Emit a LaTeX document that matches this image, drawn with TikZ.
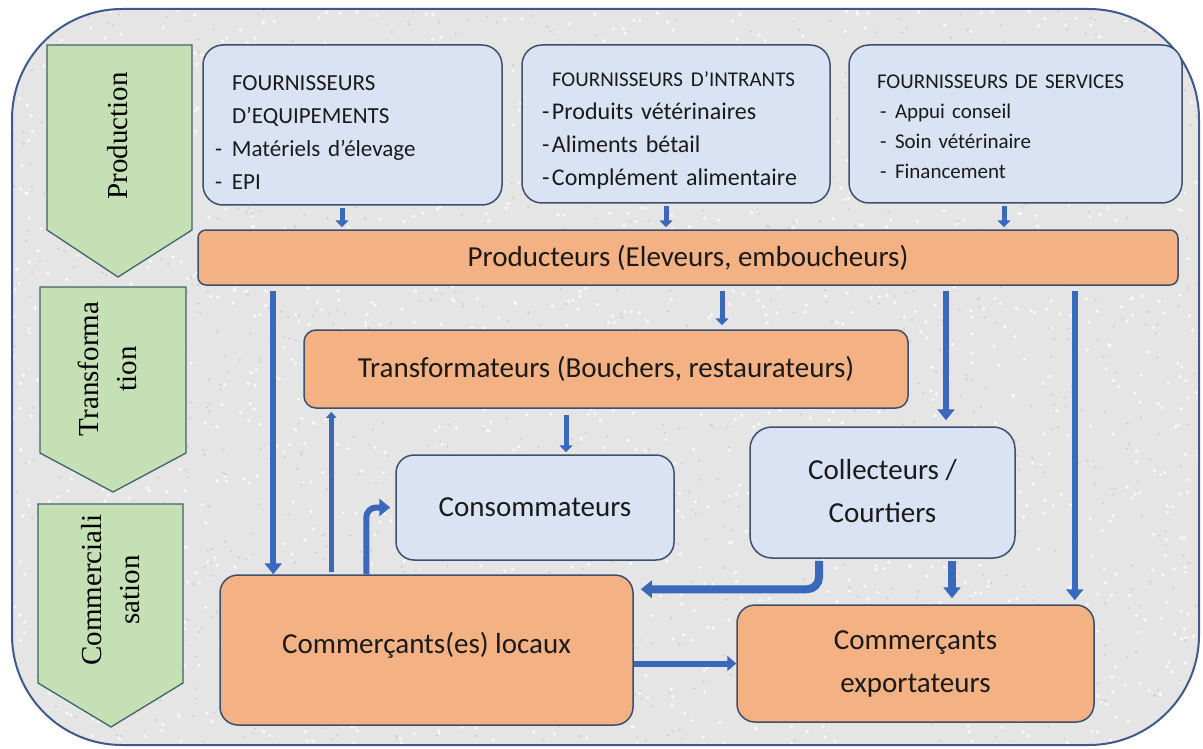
\documentclass[tikz,border=0pt]{standalone}
\usepackage{fontspec}
\setmainfont{Carlito}
\newfontfamily\chevfont{Liberation Serif}
\usetikzlibrary{arrows.meta,calc}
\definecolor{bgfill}{HTML}{E5E5E5}
\definecolor{bgdark}{HTML}{CBCBCB}
\definecolor{frameblue}{HTML}{3F5A8A}
\definecolor{boxblue}{HTML}{DAE3F3}
\definecolor{boxorange}{HTML}{F4B183}
\definecolor{boxline}{HTML}{3E4F6B}
\definecolor{chgreen}{HTML}{C5E0B4}
\definecolor{chline}{HTML}{3F6468}
\definecolor{ablue}{HTML}{3A68BA}
\definecolor{txt}{HTML}{1A1A1A}
\begin{document}
\begin{tikzpicture}[x=1pt,y=-1pt,
  bbox/.style={draw=boxline, line width=1.5pt, fill=boxblue, text=txt, inner sep=0pt},
  obox/.style={draw=boxline, line width=1.5pt, fill=boxorange, text=txt, inner sep=0pt},
  chev/.style={draw=chline, line width=1.3pt, fill=chgreen},
  chevlabel/.style={rotate=90, font=\chevfont\fontsize{29}{38}\selectfont, align=center, text=black, inner sep=0pt},
  fmain/.style={font=\fontsize{29}{43}\selectfont},
  arr/.style={draw=ablue, line width=6pt, -{Triangle[width=17pt,length=11pt]}},
  arrs/.style={draw=ablue, line width=5pt, -{Triangle[width=13pt,length=7pt]}},
  arrt/.style={draw=ablue, line width=4.5pt, -{Triangle[width=10pt,length=6pt]}}
]
\useasboundingbox (0,0) rectangle (1203,749);
\fill[white] (0,0) rectangle (1203,749);

% outer frame with textured background
\fill[bgfill, rounded corners=110pt] (12,9) rectangle (1199,745);
\begin{scope}
  \clip[rounded corners=110pt] (12,9) rectangle (1199,745);
  \pgfmathsetseed{42}
  \foreach \i in {1,...,1800}{
    \pgfmathsetmacro\xx{12+1187*rnd}
    \pgfmathsetmacro\yy{9+736*rnd}
    \fill[white, opacity=0.75] (\xx,\yy) circle (1.8pt);
  }
  \foreach \i in {1,...,1200}{
    \pgfmathsetmacro\xx{12+1187*rnd}
    \pgfmathsetmacro\yy{9+736*rnd}
    \fill[bgdark, opacity=0.8] (\xx,\yy) circle (1.3pt);
  }
\end{scope}
\draw[frameblue, line width=2pt, rounded corners=110pt] (12,9) rectangle (1199,745);

% chevrons
\draw[chev] (47,45) -- (192,45) -- (192,230) -- (118,277) -- (47,230) -- cycle;
\draw[chev] (40,287) -- (186,287) -- (186,453) -- (113,492) -- (40,453) -- cycle;
\draw[chev] (38,504) -- (183,504) -- (183,683) -- (111,727) -- (38,683) -- cycle;
\node[chevlabel] (lprod) at (118,136) {Production};
\node[chevlabel] (ltrans) at (107,369) {Transforma\\tion};
\node[chevlabel] (lcomm) at (111,590) {Commerciali\\sation};

% suppliers
\node[bbox, rounded corners=20pt, minimum width=299pt, minimum height=160pt,
      text width=275pt, align=left, font=\fontsize{23}{33}\selectfont] (fe) at (352.5,125)
  {\rule{0pt}{30pt}\hspace*{17pt}FOURNISSEURS\\\hspace*{17pt}D’EQUIPEMENTS\\\makebox[17pt][l]{-}Matériels d’élevage\\\makebox[17pt][l]{-}EPI};
\node[bbox, rounded corners=20pt, minimum width=308pt, minimum height=158pt,
      text width=268pt, align=left, font=\fontsize{24}{33}\selectfont] (fi) at (676,124)
  {\rule{0pt}{28pt}\hspace*{10pt}{\fontsize{21}{33}\selectfont FOURNISSEURS D’INTRANTS}\\\makebox[10pt][l]{-}Produits vétérinaires\\\makebox[10pt][l]{-}Aliments bétail\\\makebox[10pt][l]{-}Complément alimentaire};
\node[bbox, rounded corners=20pt, minimum width=333pt, minimum height=158pt,
      text width=277pt, align=left, font=\fontsize{21}{30}\selectfont] (fs) at (1015.5,124)
  {\rule{0pt}{19pt}FOURNISSEURS DE SERVICES\\\makebox[18pt][l]{\hspace{3pt}-}Appui conseil\\\makebox[18pt][l]{\hspace{3pt}-}Soin vétérinaire\\\makebox[18pt][l]{\hspace{3pt}-}Financement};

% main boxes
\node[obox, fmain, rounded corners=8pt, minimum width=980pt, minimum height=55pt] (prod) at (688,257.5)
  {Producteurs (Eleveurs, emboucheurs)};
\node[obox, fmain, rounded corners=12pt, minimum width=604pt, minimum height=78pt] (trans) at (606,369)
  {Transformateurs (Bouchers, restaurateurs)};
\node[bbox, fmain, rounded corners=18pt, minimum width=278pt, minimum height=105pt] (cons) at (535,507.5)
  {Consommateurs};
\node[bbox, fmain, rounded corners=22pt, minimum width=265pt, minimum height=131pt, align=center] (coll) at (882.5,492.5)
  {\raisebox{4pt}{Collecteurs /}\\\raisebox{4pt}{Courtiers}};
\node[obox, fmain, rounded corners=18pt, minimum width=413pt, minimum height=150pt] (cl) at (426.5,650)
  {\raisebox{14pt}{Commerçants(es) locaux}};
\node[obox, fmain, rounded corners=18pt, minimum width=357pt, minimum height=117pt, align=center] (ce) at (915.5,663.5)
  {Commerçants\\exportateurs};

% helper coordinates
\coordinate (a1) at ([xshift=54pt]cl.north west);
\coordinate (a2) at ([xshift=112pt]cl.north west);
\coordinate (a3) at ([xshift=147pt]cl.north west);
\coordinate (b1) at ([xshift=-63.5pt]coll.south);
\coordinate (b2) at ([yshift=-15pt]cl.north east);

% supplier arrows
\draw[arrs, shorten <=2pt, shorten >=2pt] ([xshift=-10.5pt]fe.south) -- ([xshift=-10.5pt]fe.south |- prod.north);
\draw[arrs, shorten <=2pt, shorten >=2pt] ([xshift=-10pt]fi.south) -- ([xshift=-10pt]fi.south |- prod.north);
\draw[arrs, shorten <=2pt, shorten >=2pt] ([xshift=-11.5pt]fs.south) -- ([xshift=-11.5pt]fs.south |- prod.north);

% producer arrows
\draw[arr, shorten <=5pt] (prod.south -| a1) -- (a1);
\draw[arrs, shorten <=5pt, shorten >=4pt] ([xshift=116pt]trans.north |- prod.south) -- ([xshift=116pt]trans.north);
\draw[arr, shorten <=5pt, shorten >=6pt] ([xshift=63.5pt]coll.north |- prod.south) -- ([xshift=63.5pt]coll.north);
\draw[arr, shorten <=5pt, shorten >=4pt] ([xshift=-20pt]ce.north east |- prod.south) -- ([xshift=-20pt]ce.north east);

% transformation / consumption
\draw[arrs, shorten <=6pt, shorten >=2pt] ([xshift=31pt]cons.north |- trans.south) -- ([xshift=31pt]cons.north);
\draw[arrt, shorten <=2pt, shorten >=3pt] (a2) -- (a2 |- trans.south);
\draw[arr, rounded corners=10pt, shorten >=5pt] (a3) |- (cons.west);

% collectors
\draw[arr, line width=8pt, rounded corners=12pt, shorten <=2pt, shorten >=7pt] (b1) |- (b2);
\draw[arr, line width=8pt, shorten <=2pt, shorten >=6pt] ([xshift=69.5pt]coll.south) -- ([xshift=69.5pt]coll.south |- ce.north);

% local to export
\draw[arr, -{Triangle[width=15pt,length=9pt]}] (cl.east |- ce.west) -- (ce.west);
\end{tikzpicture}
\end{document}
